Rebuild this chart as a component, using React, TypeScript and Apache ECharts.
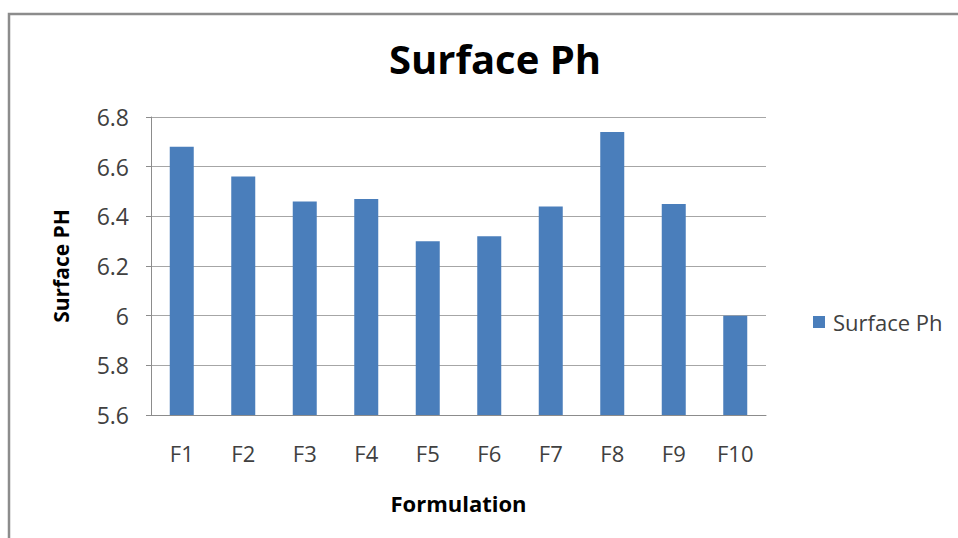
import React, { useEffect, useRef } from "react";
import * as echarts from "echarts";

const categories = ["F1", "F2", "F3", "F4", "F5", "F6", "F7", "F8", "F9", "F10"];
const surfacePh = [6.68, 6.56, 6.46, 6.47, 6.3, 6.32, 6.44, 6.74, 6.45, 6.0];
const yTicks = { min: 5.6, max: 6.8, step: 0.2 };

const FONT = "'Open Sans', 'Noto Sans', sans-serif";
const TEXT = "#404040";

export default function App() {
  const ref = useRef<HTMLDivElement>(null);

  useEffect(() => {
    document.body.style.margin = "0";
    const chart = echarts.init(ref.current!, undefined, { renderer: "svg" });
    chart.setOption({
      animation: false,
      backgroundColor: "#ffffff",
      title: {
        text: "Surface Ph",
        left: 490,
        top: 33,
        textAlign: "center",
        textStyle: { fontFamily: FONT, fontSize: 40, fontWeight: "bold", color: "#000000" },
      },
      graphic: [
        {
          type: "rect",
          shape: { x: 9, y: 14, width: 1000, height: 600 },
          style: { fill: "none", stroke: "#8c8c8c", lineWidth: 2.5 },
          silent: true,
        },
      ],
      legend: {
        left: 808,
        top: 306,
        itemWidth: 12,
        itemHeight: 12,
        icon: "rect",
        textStyle: { fontFamily: FONT, fontSize: 22, color: TEXT, padding: [0, 0, 0, 3] },
        data: ["Surface Ph"],
      },
      grid: { left: 151, right: 192, top: 117, bottom: 123 },
      xAxis: {
        type: "category",
        data: categories,
        name: "Formulation",
        nameLocation: "middle",
        nameGap: 77,
        nameTextStyle: { fontFamily: FONT, fontSize: 22, fontWeight: "bold", color: "#000000" },
        axisLine: { lineStyle: { color: "#8c8c8c", width: 1 } },
        axisTick: { show: false },
        axisLabel: { fontFamily: FONT, fontSize: 22, color: TEXT, margin: 27 },
      },
      yAxis: {
        type: "value",
        min: yTicks.min,
        max: yTicks.max,
        interval: yTicks.step,
        name: "Surface PH",
        nameLocation: "middle",
        nameGap: 80,
        nameTextStyle: { fontFamily: FONT, fontSize: 21, fontWeight: "bold", color: "#000000" },
        axisLine: { show: true, lineStyle: { color: "#8c8c8c", width: 1 } },
        axisTick: { show: true, length: 5, lineStyle: { color: "#8c8c8c" } },
        splitLine: { lineStyle: { color: "#a6a6a6", width: 1 } },
        axisLabel: {
          fontFamily: FONT,
          fontSize: 23,
          color: TEXT,
          margin: 22,
          formatter: (v: number) => String(Number(v.toFixed(1))),
        },
      },
      series: [
        {
          name: "Surface Ph",
          type: "bar",
          data: surfacePh,
          barWidth: 24,
          itemStyle: { color: "#4a7ebb" },
        },
      ],
    });
    return () => chart.dispose();
  }, []);

  return <div ref={ref} style={{ width: 958, height: 538 }} />;
}
